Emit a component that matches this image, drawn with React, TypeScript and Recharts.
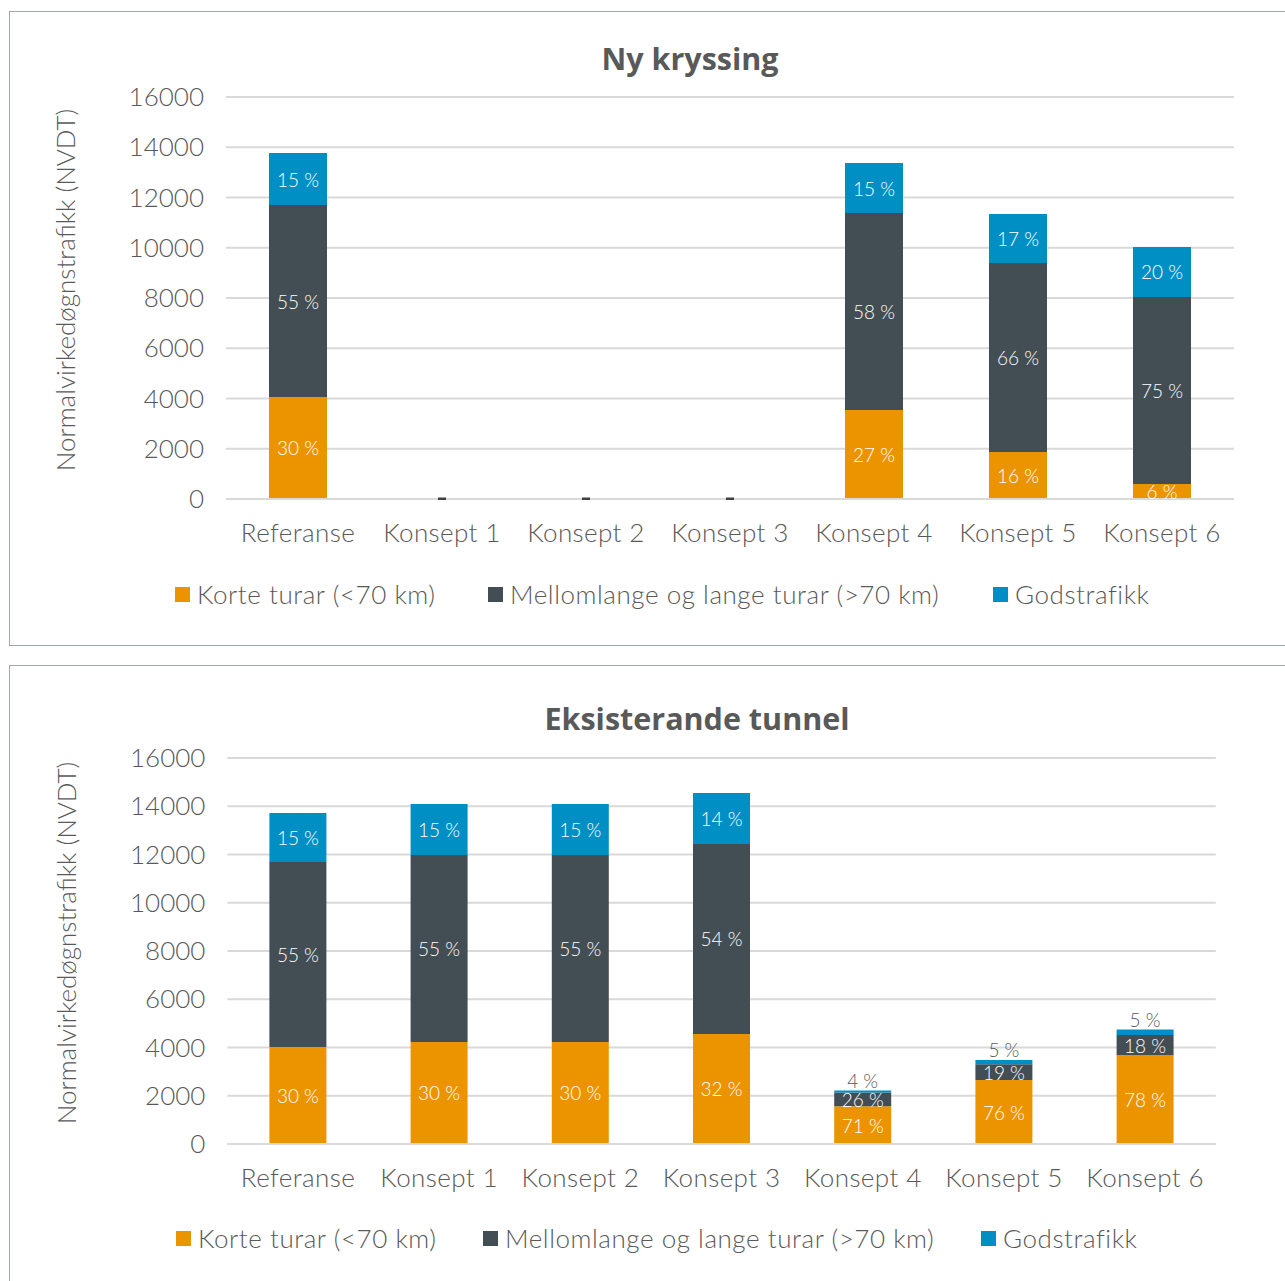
import React from 'react';
import { ComposedChart, Bar, Line, XAxis, YAxis, CartesianGrid, LabelList } from 'recharts';

const categories = ['Referanse', 'Konsept 1', 'Konsept 2', 'Konsept 3', 'Konsept 4', 'Konsept 5', 'Konsept 6'];
const yTicks = [0, 2000, 4000, 6000, 8000, 10000, 12000, 14000, 16000];
const seriesNames = ['Korte turar (<70 km)', 'Mellomlange og lange turar (>70 km)', 'Godstrafikk'];

// Ny kryssing
const nyKorte = [4060, 0, 0, 0, 3540, 1870, 600];
const nyMellom = [7640, 0, 0, 0, 7840, 7520, 7440];
const nyGods = [2070, 0, 0, 0, 1990, 1950, 1990];
const nyKorteLbl = ['30 %', '', '', '', '27 %', '16 %', '6 %'];
const nyMellomLbl = ['55 %', '', '', '', '58 %', '66 %', '75 %'];
const nyGodsLbl = ['15 %', '', '', '', '15 %', '17 %', '20 %'];

// Eksisterande tunnel
const tuKorte = [4020, 4230, 4230, 4560, 1560, 2650, 3680];
const tuMellom = [7670, 7750, 7750, 7875, 570, 660, 840];
const tuGods = [2030, 2110, 2110, 2115, 85, 175, 230];
const tuKorteLbl = ['30 %', '30 %', '30 %', '32 %', '71 %', '76 %', '78 %'];
const tuMellomLbl = ['55 %', '55 %', '55 %', '54 %', '26 %', '19 %', '18 %'];
const tuGodsLbl = ['15 %', '15 %', '15 %', '14 %', '4 %', '5 %', '5 %'];

const COLORS = ['#EC9400', '#434E54', '#008FC5'];
const TEXT = '#595959';
const FONT = 'Lato, "Open Sans", sans-serif';
const TITLE_FONT = '"Open Sans", Roboto, sans-serif';

const buildRows = (k: number[], m: number[], g: number[], kl: string[], ml: string[], gl: string[]) =>
  categories.map((c, i) => ({
    name: c,
    korte: k[i],
    mellom: m[i],
    gods: g[i],
    kl: kl[i],
    ml: ml[i],
    gl: gl[i],
    zero: k[i] + m[i] + g[i] === 0 ? 0 : null,
  }));

const nyData = buildRows(nyKorte, nyMellom, nyGods, nyKorteLbl, nyMellomLbl, nyGodsLbl);
const tuData = buildRows(tuKorte, tuMellom, tuGods, tuKorteLbl, tuMellomLbl, tuGodsLbl);

const makeLabel = (isTop: boolean) => (props: any) => {
  const vb = props.viewBox || props;
  const x = Number(vb.x ?? props.x);
  const y = Number(vb.y ?? props.y);
  const width = Number(vb.width ?? props.width);
  const height = Number(vb.height ?? props.height);
  const value = props.value;
  if (!value) return null;
  const cx = x + width / 2;
  if (isTop && Math.abs(height) < 12) {
    return (
      <text x={cx} y={y - 10} textAnchor="middle" dominantBaseline="central" fill={TEXT} fontSize={19} fontFamily={FONT} fontWeight={300}>
        {value}
      </text>
    );
  }
  return (
    <text x={cx} y={y + height / 2} textAnchor="middle" dominantBaseline="central" fill="#FFFFFF" fontSize={19} fontFamily={FONT} fontWeight={300}>
      {value}
    </text>
  );
};

const ZeroDot = (props: any) => {
  const { cx, cy, payload } = props;
  if (payload == null || payload.zero == null || cx == null || cy == null) return null;
  return <rect x={cx - 4} y={cy - 1.5} width={8} height={2.5} fill="#404040" />;
};

type PanelProps = {
  data: any[];
  top: number;
  height: number;
  plotLeft: number;
  plotRight: number;
  plotTop: number;
  plotBottom: number;
  barSize: number;
  title: string;
  titleX: number;
  titleY: number;
  yLabelX: number;
  legendTop: number;
  legendLefts: number[];
};

const Panel = (p: PanelProps) => {
  const yAxisWidth = 120;
  const xAxisHeight = 30;
  const W = 1285;
  const yMid = (p.plotTop + p.plotBottom) / 2 - 8;
  return (
    <div style={{ position: 'absolute', left: 0, top: p.top, width: W, height: p.height }}>
      <ComposedChart
        width={W}
        height={p.height}
        data={p.data}
        margin={{ left: p.plotLeft - yAxisWidth, right: W - p.plotRight, top: p.plotTop, bottom: p.height - p.plotBottom - xAxisHeight }}
        barSize={p.barSize}
      >
        <CartesianGrid vertical={false} stroke="#D9D9D9" strokeWidth={2} />
        <XAxis
          dataKey="name"
          height={xAxisHeight}
          axisLine={{ stroke: '#D9D9D9', strokeWidth: 2 }}
          tickLine={false}
          tickSize={0}
          tickMargin={25}
          interval={0}
          tick={{ fill: TEXT, fontSize: 26, fontFamily: FONT, fontWeight: 300, letterSpacing: 0.4 }}
        />
        <YAxis
          width={yAxisWidth}
          domain={[0, 16000]}
          ticks={yTicks}
          axisLine={false}
          tickLine={false}
          tickSize={0}
          tickMargin={22}
          interval={0}
          tick={{ fill: TEXT, fontSize: 26, fontFamily: FONT, fontWeight: 300 }}
        />
        <Bar dataKey="korte" stackId="a" fill={COLORS[0]} isAnimationActive={false} name={seriesNames[0]}>
          <LabelList dataKey="kl" content={makeLabel(false)} />
        </Bar>
        <Bar dataKey="mellom" stackId="a" fill={COLORS[1]} isAnimationActive={false} name={seriesNames[1]}>
          <LabelList dataKey="ml" content={makeLabel(false)} />
        </Bar>
        <Bar dataKey="gods" stackId="a" fill={COLORS[2]} isAnimationActive={false} name={seriesNames[2]}>
          <LabelList dataKey="gl" content={makeLabel(true)} />
        </Bar>
        <Line dataKey="zero" stroke="none" isAnimationActive={false} dot={<ZeroDot />} activeDot={false} connectNulls={false} legendType="none" />
      </ComposedChart>
      <svg width={W} height={p.height} style={{ position: 'absolute', left: 0, top: 0, pointerEvents: 'none' }}>
        <text x={p.titleX} y={p.titleY} textAnchor="middle" dominantBaseline="central" fill={TEXT} fontSize={30.5} fontWeight={700} fontFamily={TITLE_FONT}>
          {p.title}
        </text>
        <text
          x={p.yLabelX}
          y={yMid}
          textAnchor="middle"
          dominantBaseline="central"
          fill={TEXT}
          fontSize={26}
          fontWeight={300}
          fontFamily={FONT}
          transform={`rotate(-90 ${p.yLabelX} ${yMid})`}
        >
          Normalvirkedøgnstrafikk (NVDT)
        </text>
      </svg>
      {seriesNames.map((n, i) => (
        <div key={n} style={{ position: 'absolute', left: p.legendLefts[i], top: p.legendTop, display: 'flex', alignItems: 'center', height: 30 }}>
          <span style={{ display: 'inline-block', width: 15, height: 15, background: COLORS[i], marginRight: 7 }} />
          <span style={{ fontFamily: FONT, fontWeight: 300, fontSize: 26, color: TEXT, whiteSpace: 'nowrap', letterSpacing: 0.55 }}>{n}</span>
        </div>
      ))}
    </div>
  );
};

export default function App() {
  return (
    <div style={{ position: 'absolute', left: 0, top: 0, width: 1285, height: 1281, overflow: 'hidden', background: '#fff' }}>
      <div style={{ position: 'absolute', left: 9, top: 11, width: 1290, height: 635, border: '1.5px solid #9EA8AD', boxSizing: 'border-box' }} />
      <div style={{ position: 'absolute', left: 9, top: 665, width: 1290, height: 640, border: '1.5px solid #9EA8AD', boxSizing: 'border-box' }} />
      <Panel
        data={nyData}
        top={0}
        height={645}
        plotLeft={226}
        plotRight={1234}
        plotTop={97}
        plotBottom={499}
        barSize={58}
        title="Ny kryssing"
        titleX={690}
        titleY={58}
        yLabelX={65}
        legendTop={579}
        legendLefts={[175, 488, 993]}
      />
      <Panel
        data={tuData}
        top={660}
        height={621}
        plotLeft={227.4}
        plotRight={1215.8}
        plotTop={98}
        plotBottom={484}
        barSize={57}
        title="Eksisterande tunnel"
        titleX={697}
        titleY={58}
        yLabelX={66}
        legendTop={563}
        legendLefts={[176, 483, 981]}
      />
    </div>
  );
}
